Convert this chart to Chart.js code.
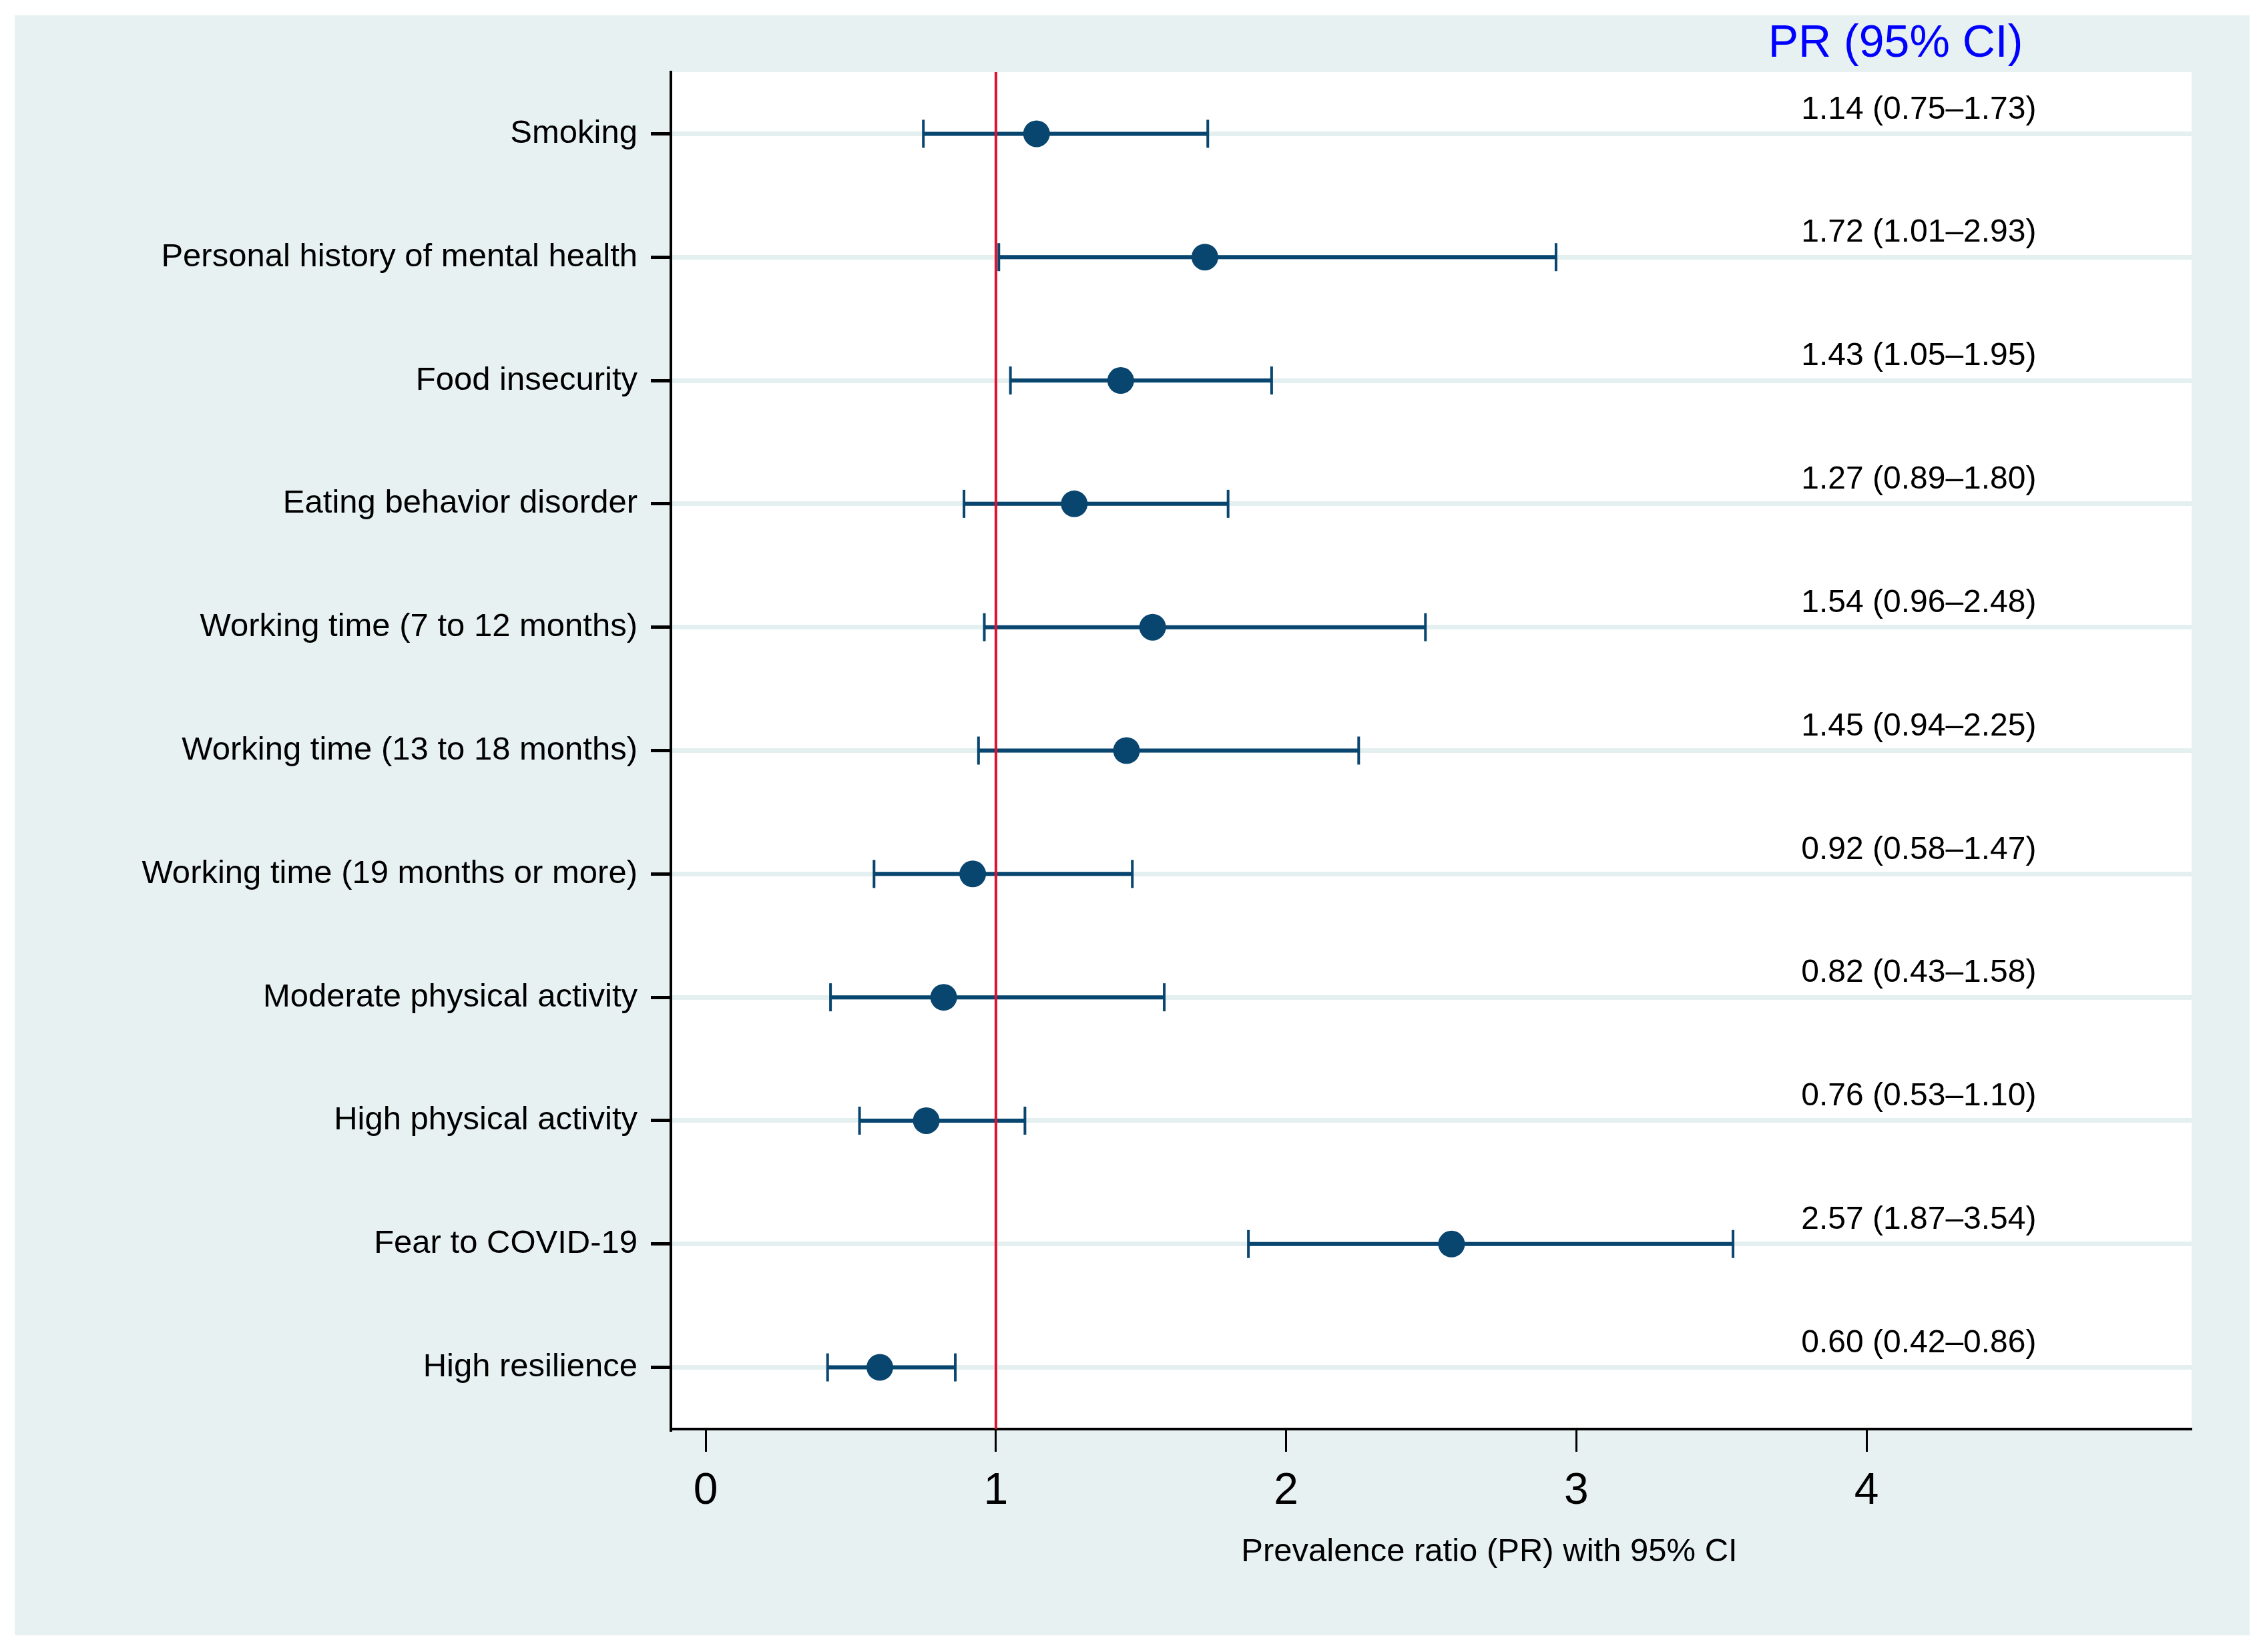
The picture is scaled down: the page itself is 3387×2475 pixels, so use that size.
<!DOCTYPE html>
<html>
<head>
<meta charset="utf-8">
<script src="https://cdn.jsdelivr.net/npm/chart.js@4.4.1/dist/chart.umd.min.js"></script>
<style>
  html, body { margin: 0; padding: 0; background: #ffffff; }
  canvas { display: block; }
</style>
</head>
<body>
<canvas id="forestChart" width="3387" height="2475"></canvas>
<script>
// Prevalence ratios with 95% CI, top to bottom
const factors = [
  'Smoking',
  'Personal history of mental health',
  'Food insecurity',
  'Eating behavior disorder',
  'Working time (7 to 12 months)',
  'Working time (13 to 18 months)',
  'Working time (19 months or more)',
  'Moderate physical activity',
  'High physical activity',
  'Fear to COVID-19',
  'High resilience'
];
const pr    = [1.14, 1.72, 1.43, 1.27, 1.54, 1.45, 0.92, 0.82, 0.76, 2.57, 0.60];
const ciLow = [0.75, 1.01, 1.05, 0.89, 0.96, 0.94, 0.58, 0.43, 0.53, 1.87, 0.42];
const ciHigh = [1.73, 2.93, 1.95, 1.80, 2.48, 2.25, 1.47, 1.58, 1.10, 3.54, 0.86];
const xTicks = [0, 1, 2, 3, 4];
const refValue = 1;

const navy = '#08456f';
const fontFamily = '"Liberation Sans", Arial, sans-serif';

// background: teal graph region, white plot region
const backgroundPlugin = {
  id: 'background',
  beforeDraw(chart) {
    const ctx = chart.ctx;
    const a = chart.chartArea;
    ctx.save();
    ctx.fillStyle = '#ffffff';
    ctx.fillRect(0, 0, chart.width, chart.height);
    ctx.fillStyle = '#e7f1f1';
    ctx.fillRect(22, 23, 3348, 2427);
    ctx.fillStyle = '#ffffff';
    ctx.fillRect(a.left, a.top, a.right - a.left, a.bottom - a.top);
    ctx.restore();
  }
};

// PR (95% CI) column and axis title
const textPlugin = {
  id: 'texts',
  afterDatasetsDraw(chart) {
    const ctx = chart.ctx;
    const xs = chart.scales.x;
    const ys = chart.scales.y;
    ctx.save();
    ctx.textAlign = 'center';
    ctx.textBaseline = 'middle';

    ctx.fillStyle = '#0000ff';
    ctx.font = '68px ' + fontFamily;
    ctx.fillText('PR (95% CI)', xs.getPixelForValue(4.1), 66);

    ctx.fillStyle = '#000000';
    ctx.font = '48px ' + fontFamily;
    pr.forEach((v, i) => {
      const txt = v.toFixed(2) + ' (' + ciLow[i].toFixed(2) + '\u2013' + ciHigh[i].toFixed(2) + ')';
      ctx.fillText(txt, xs.getPixelForValue(4.18), ys.getPixelForValue(i) - 36);
    });

    ctx.font = '49px ' + fontFamily;
    ctx.fillText('Prevalence ratio (PR) with 95% CI', (xs.left + xs.right) / 2 + 87, 2325);
    ctx.restore();
  }
};

const ciDatasets = factors.map((f, i) => ({
  label: f,
  data: [{ x: ciLow[i], y: i }, { x: ciHigh[i], y: i }],
  showLine: true,
  borderColor: navy,
  borderWidth: 6,
  pointStyle: 'line',
  rotation: 90,
  pointRadius: 21,
  pointBorderWidth: 4,
  pointBorderColor: navy,
  order: 2
}));

const ctx = document.getElementById('forestChart').getContext('2d');
const forestChart = new Chart(ctx, {
  type: 'scatter',
  data: {
    datasets: [
      {
        label: 'PR',
        data: pr.map((v, i) => ({ x: v, y: i })),
        pointRadius: 20,
        pointBackgroundColor: navy,
        pointBorderWidth: 0,
        order: 0
      },
      {
        label: 'Reference',
        data: [{ x: refValue, y: -0.5 }, { x: refValue, y: factors.length - 0.5 }],
        showLine: true,
        borderColor: '#e0102f',
        borderWidth: 4,
        pointRadius: 0,
        order: 1
      },
      ...ciDatasets
    ]
  },
  options: {
    responsive: false,
    devicePixelRatio: 1,
    animation: false,
    events: [],
    layout: { padding: { left: 0, top: 108, right: 104, bottom: 0 } },
    plugins: {
      legend: { display: false },
      tooltip: { enabled: false }
    },
    scales: {
      x: {
        type: 'linear',
        min: -0.12,
        max: 5.12,
        afterBuildTicks: s => { s.ticks = xTicks.map(v => ({ value: v })); },
        afterFit: s => { s.height = 334; },
        border: { display: true, color: '#000000', width: 4 },
        grid: {
          drawOnChartArea: false,
          tickLength: 34,
          tickWidth: 3,
          tickColor: '#000000'
        },
        ticks: {
          color: '#000000',
          font: { family: fontFamily, size: 66 },
          padding: 20,
          maxRotation: 0
        }
      },
      y: {
        type: 'linear',
        reverse: true,
        min: -0.5,
        max: factors.length - 0.5,
        afterBuildTicks: s => { s.ticks = factors.map((f, i) => ({ value: i })); },
        afterFit: s => { s.width = 1005; },
        border: { display: true, color: '#000000', width: 4 },
        grid: {
          color: '#e4eff0',
          lineWidth: 7,
          tickLength: 30,
          tickWidth: 5,
          tickColor: '#000000'
        },
        ticks: {
          color: '#000000',
          font: { family: fontFamily, size: 49 },
          padding: 20,
          callback: v => factors[v]
        }
      }
    }
  },
  plugins: [backgroundPlugin, textPlugin]
});
</script>
</body>
</html>
